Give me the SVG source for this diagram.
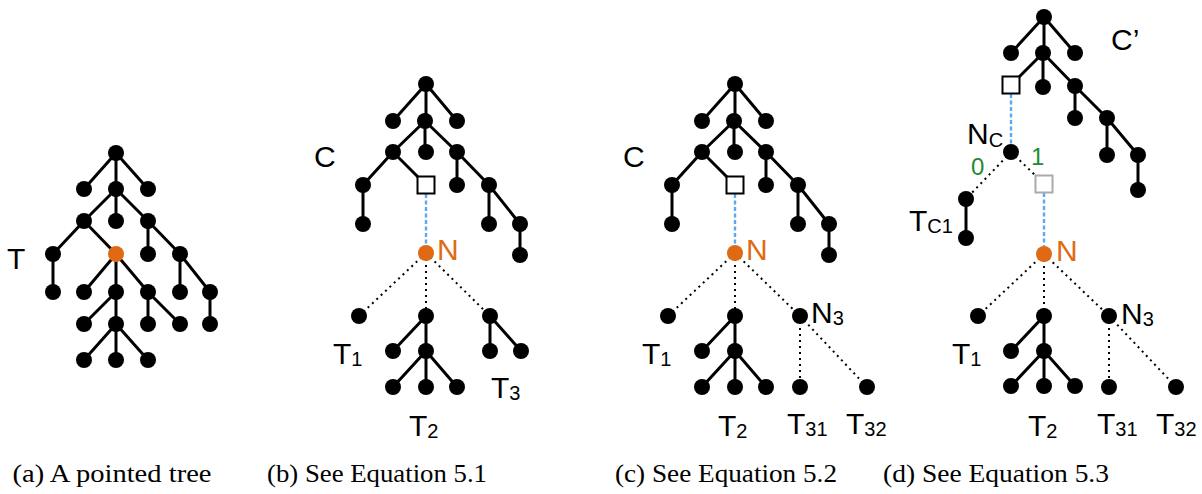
<svg xmlns="http://www.w3.org/2000/svg" width="1202" height="494" viewBox="0 0 1202 494">
<style>
.e{stroke:#000;stroke-width:3;fill:none}
.dt{stroke:#000;stroke-width:2;stroke-dasharray:2 4;fill:none}
.bl{stroke:#5BA9F4;stroke-width:2.4;stroke-dasharray:4 2.5;fill:none}
.n{fill:#000}
.o{fill:#E06A14}
.sq{fill:#fff;stroke:#000;stroke-width:2}
.gsq{fill:#fff;stroke:#AAAAAA;stroke-width:2}
.lb{font-family:"Liberation Sans",Arial,sans-serif;font-size:30px;fill:#000}
.ol{font-family:"Liberation Sans",Arial,sans-serif;font-size:30px;fill:#E06A14}
.gr{font-family:"Liberation Sans",Arial,sans-serif;font-size:24px;fill:#1E8C2E}
.sb{font-size:20px}
.cap{font-family:"Liberation Serif","Times New Roman",serif;font-size:26px;fill:#000}
</style>
<g id="connectors">
<path class="e" d="M116 153L84 189M116 153V189M116 153L148 189M116 189L84 221M116 189V221M116 189L148 221M84 221L53 254M84 221L116 254M148 221V254M148 221L180 254M53 254V292M116 254L84 292M116 254V292M116 254L148 292M180 254V292M180 254L210 292M116 292L84 324M116 292V324M148 292V324M148 292L180 324M210 292V324M116 324L84 360M116 324V360M116 324L148 360"/>
<path class="e" d="M426 84L393 121M426 84V121M426 84L457 121M425 121L393 152M425 121V152M425 121L457 152M393 152L363 185M393 152L418 177M457 152V185M457 152L489 185M363 185V224M489 185V224M489 185L520 224M520 224V255"/>
<path class="bl" d="M426 194V245"/>
<path class="dt" d="M426 253L359 316M426 253V316M426 253L490 316"/>
<path class="e" d="M426 316L393 351M426 316V351M426 351L393 387M426 351V387M426 351L457 387M490 316V351M490 316L521 351"/>
<path class="e" d="M735 84L702 121M735 84V121M735 84L766 121M734 121L702 152M734 121V152M734 121L766 152M702 152L672 185M702 152L727 177M766 152V185M766 152L798 185M672 185V224M798 185V224M798 185L829 224M829 224V255"/>
<path class="bl" d="M735 194V245"/>
<path class="dt" d="M735 253L668 316M735 253V316M735 253L800 316M800 316V387M800 316L867 387"/>
<path class="e" d="M735 316L702 351M735 316V351M735 351L702 387M735 351V387M735 351L766 387"/>
<path class="e" d="M1044 17L1011 53M1044 17V53M1044 17L1075 53M1043 53L1019 77M1043 53V87M1043 53L1075 86M1075 86V118M1075 86L1107 118M1107 118V155M1107 118L1138 155M1138 155V190"/>
<path class="bl" d="M1011 94V145"/>
<path class="dt" d="M1011 152L966 199M1011 152L1036 176"/>
<path class="e" d="M966 199V238"/>
<path class="bl" d="M1044 193V246"/>
<path class="dt" d="M1044 254L978 316M1044 254V316M1044 254L1109 316M1109 316V387M1109 316L1176 387"/>
<path class="e" d="M1044 316L1011 351M1044 316V351M1044 351L1011 386M1044 351V386M1044 351L1075 386"/>
</g>
<g id="a-nodes">
<g id="a0"><circle class="n" cx="116" cy="153" r="8"/></g>
<g id="a1"><circle class="n" cx="84" cy="189" r="8"/></g>
<g id="a2"><circle class="n" cx="116" cy="189" r="8"/></g>
<g id="a3"><circle class="n" cx="148" cy="189" r="8"/></g>
<g id="a4"><circle class="n" cx="84" cy="221" r="8"/></g>
<g id="a5"><circle class="n" cx="116" cy="221" r="8"/></g>
<g id="a6"><circle class="n" cx="148" cy="221" r="8"/></g>
<g id="a7"><circle class="n" cx="53" cy="254" r="8"/></g>
<g id="a8"><circle class="o" cx="116" cy="254" r="8"/></g>
<g id="a9"><circle class="n" cx="148" cy="254" r="8"/></g>
<g id="a10"><circle class="n" cx="180" cy="254" r="8"/></g>
<g id="a11"><circle class="n" cx="53" cy="292" r="8"/></g>
<g id="a12"><circle class="n" cx="84" cy="292" r="8"/></g>
<g id="a13"><circle class="n" cx="116" cy="292" r="8"/></g>
<g id="a14"><circle class="n" cx="148" cy="292" r="8"/></g>
<g id="a15"><circle class="n" cx="180" cy="292" r="8"/></g>
<g id="a16"><circle class="n" cx="210" cy="292" r="8"/></g>
<g id="a17"><circle class="n" cx="84" cy="324" r="8"/></g>
<g id="a18"><circle class="n" cx="116" cy="324" r="8"/></g>
<g id="a19"><circle class="n" cx="148" cy="324" r="8"/></g>
<g id="a20"><circle class="n" cx="180" cy="324" r="8"/></g>
<g id="a21"><circle class="n" cx="210" cy="324" r="8"/></g>
<g id="a22"><circle class="n" cx="84" cy="360" r="8"/></g>
<g id="a23"><circle class="n" cx="116" cy="360" r="8"/></g>
<g id="a24"><circle class="n" cx="148" cy="360" r="8"/></g>
<text class="lb" x="7" y="269">T</text>
</g>
<g id="b-nodes">
<g id="b0"><circle class="n" cx="426" cy="84" r="8"/></g>
<g id="b1"><circle class="n" cx="393" cy="121" r="8"/></g>
<g id="b2"><circle class="n" cx="425" cy="121" r="8"/></g>
<g id="b3"><circle class="n" cx="457" cy="121" r="8"/></g>
<g id="b4"><circle class="n" cx="393" cy="152" r="8"/></g>
<g id="b5"><circle class="n" cx="426" cy="152" r="8"/></g>
<g id="b6"><circle class="n" cx="457" cy="152" r="8"/></g>
<g id="b7"><circle class="n" cx="363" cy="185" r="8"/></g>
<g id="b-hole"><rect class="sq" x="417.5" y="176.5" width="17" height="17"/></g>
<g id="b8"><circle class="n" cx="457" cy="185" r="8"/></g>
<g id="b9"><circle class="n" cx="489" cy="185" r="8"/></g>
<g id="b10"><circle class="n" cx="363" cy="224" r="8"/></g>
<g id="b11"><circle class="n" cx="489" cy="224" r="8"/></g>
<g id="b12"><circle class="n" cx="520" cy="224" r="8"/></g>
<g id="b13"><circle class="n" cx="520" cy="255" r="8"/></g>
<g id="bN"><circle class="o" cx="426" cy="253" r="8"/><text class="ol" x="437" y="260">N</text></g>
<g id="bT1"><circle class="n" cx="359" cy="316" r="8"/><text class="lb" x="333" y="364">T<tspan class="sb" dy="2">1</tspan></text></g>
<g id="bT2"><circle class="n" cx="426" cy="316" r="8"/><circle class="n" cx="393" cy="351" r="8"/><circle class="n" cx="426" cy="351" r="8"/><circle class="n" cx="393" cy="387" r="8"/><circle class="n" cx="426" cy="387" r="8"/><circle class="n" cx="457" cy="387" r="8"/><text class="lb" x="409" y="436">T<tspan class="sb" dy="2">2</tspan></text></g>
<g id="bT3"><circle class="n" cx="490" cy="316" r="8"/><circle class="n" cx="490" cy="351" r="8"/><circle class="n" cx="521" cy="351" r="8"/><text class="lb" x="491" y="398">T<tspan class="sb" dy="2">3</tspan></text></g>
<text class="lb" x="314" y="167">C</text>
</g>
<g id="c-nodes">
<g id="c0"><circle class="n" cx="735" cy="84" r="8"/></g>
<g id="c1"><circle class="n" cx="702" cy="121" r="8"/></g>
<g id="c2"><circle class="n" cx="734" cy="121" r="8"/></g>
<g id="c3"><circle class="n" cx="766" cy="121" r="8"/></g>
<g id="c4"><circle class="n" cx="702" cy="152" r="8"/></g>
<g id="c5"><circle class="n" cx="735" cy="152" r="8"/></g>
<g id="c6"><circle class="n" cx="766" cy="152" r="8"/></g>
<g id="c7"><circle class="n" cx="672" cy="185" r="8"/></g>
<g id="c-hole"><rect class="sq" x="726.5" y="176.5" width="17" height="17"/></g>
<g id="c8"><circle class="n" cx="766" cy="185" r="8"/></g>
<g id="c9"><circle class="n" cx="798" cy="185" r="8"/></g>
<g id="c10"><circle class="n" cx="672" cy="224" r="8"/></g>
<g id="c11"><circle class="n" cx="798" cy="224" r="8"/></g>
<g id="c12"><circle class="n" cx="829" cy="224" r="8"/></g>
<g id="c13"><circle class="n" cx="829" cy="255" r="8"/></g>
<g id="cN"><circle class="o" cx="735" cy="253" r="8"/><text class="ol" x="746" y="260">N</text></g>
<g id="cT1"><circle class="n" cx="668" cy="316" r="8"/><text class="lb" x="642" y="364">T<tspan class="sb" dy="2">1</tspan></text></g>
<g id="cT2"><circle class="n" cx="735" cy="316" r="8"/><circle class="n" cx="702" cy="351" r="8"/><circle class="n" cx="735" cy="351" r="8"/><circle class="n" cx="702" cy="387" r="8"/><circle class="n" cx="735" cy="387" r="8"/><circle class="n" cx="766" cy="387" r="8"/><text class="lb" x="718" y="436">T<tspan class="sb" dy="2">2</tspan></text></g>
<g id="cN3"><circle class="n" cx="800" cy="316" r="8"/><text class="lb" x="811" y="323">N<tspan class="sb" dy="2">3</tspan></text></g>
<g id="cT31"><circle class="n" cx="800" cy="387" r="8"/><text class="lb" x="787" y="434">T<tspan class="sb" dy="2">31</tspan></text></g>
<g id="cT32"><circle class="n" cx="867" cy="387" r="8"/><text class="lb" x="846" y="434">T<tspan class="sb" dy="2">32</tspan></text></g>
<text class="lb" x="623" y="167">C</text>
</g>
<g id="d-nodes">
<g id="d0"><circle class="n" cx="1044" cy="17" r="8"/></g>
<g id="d1"><circle class="n" cx="1011" cy="53" r="8"/></g>
<g id="d2"><circle class="n" cx="1043" cy="53" r="8"/></g>
<g id="d3"><circle class="n" cx="1075" cy="53" r="8"/></g>
<g id="d-hole"><rect class="sq" x="1002.5" y="76.5" width="17" height="17"/></g>
<g id="d4"><circle class="n" cx="1043" cy="87" r="8"/></g>
<g id="d5"><circle class="n" cx="1075" cy="86" r="8"/></g>
<g id="d6"><circle class="n" cx="1075" cy="118" r="8"/></g>
<g id="d7"><circle class="n" cx="1107" cy="118" r="8"/></g>
<g id="d8"><circle class="n" cx="1107" cy="155" r="8"/></g>
<g id="d9"><circle class="n" cx="1138" cy="155" r="8"/></g>
<g id="d10"><circle class="n" cx="1138" cy="190" r="8"/></g>
<text class="lb" x="1111" y="50">C’</text>
<g id="dNC"><circle class="n" cx="1011" cy="152" r="8"/><text class="lb" x="967" y="144">N<tspan class="sb" dy="3">C</tspan></text></g>
<text class="gr" x="971" y="175">0</text>
<text class="gr" x="1031" y="165">1</text>
<g id="dTC1"><circle class="n" cx="966" cy="199" r="8"/><circle class="n" cx="966" cy="238" r="8"/><text class="lb" x="909" y="231">T<tspan class="sb" dy="2">C1</tspan></text></g>
<g id="d-grey-hole"><rect class="gsq" x="1035.5" y="175.5" width="17" height="17"/></g>
<g id="dN"><circle class="o" cx="1044" cy="254" r="8"/><text class="ol" x="1056" y="261">N</text></g>
<g id="dT1"><circle class="n" cx="978" cy="316" r="8"/><text class="lb" x="952" y="364">T<tspan class="sb" dy="2">1</tspan></text></g>
<g id="dT2"><circle class="n" cx="1044" cy="316" r="8"/><circle class="n" cx="1011" cy="351" r="8"/><circle class="n" cx="1044" cy="351" r="8"/><circle class="n" cx="1011" cy="386" r="8"/><circle class="n" cx="1044" cy="386" r="8"/><circle class="n" cx="1075" cy="386" r="8"/><text class="lb" x="1028" y="436">T<tspan class="sb" dy="2">2</tspan></text></g>
<g id="dN3"><circle class="n" cx="1109" cy="316" r="8"/><text class="lb" x="1121" y="324">N<tspan class="sb" dy="2">3</tspan></text></g>
<g id="dT31"><circle class="n" cx="1109" cy="387" r="8"/><text class="lb" x="1097" y="434">T<tspan class="sb" dy="2">31</tspan></text></g>
<g id="dT32"><circle class="n" cx="1176" cy="387" r="8"/><text class="lb" x="1156" y="434">T<tspan class="sb" dy="2">32</tspan></text></g>
</g>
<g id="captions">
<text class="cap" x="112" y="482" text-anchor="middle" textLength="199" lengthAdjust="spacingAndGlyphs">(a) A pointed tree</text>
<text class="cap" x="377" y="482" text-anchor="middle" textLength="220" lengthAdjust="spacingAndGlyphs">(b) See Equation 5.1</text>
<text class="cap" x="726" y="482" text-anchor="middle" textLength="222" lengthAdjust="spacingAndGlyphs">(c) See Equation 5.2</text>
<text class="cap" x="996" y="482" text-anchor="middle" textLength="226" lengthAdjust="spacingAndGlyphs">(d) See Equation 5.3</text>
</g>
</svg>
